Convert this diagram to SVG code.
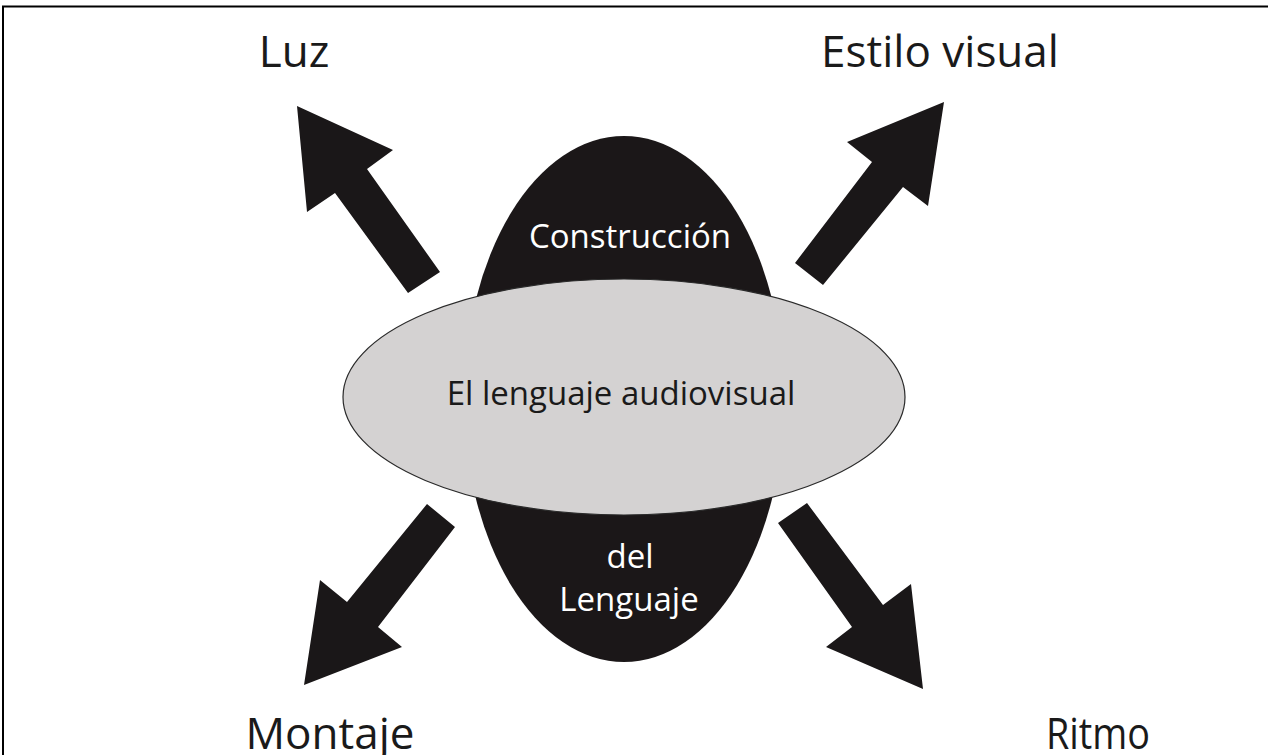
<svg xmlns="http://www.w3.org/2000/svg" width="1268" height="755" viewBox="0 0 1268 755">
<style>
.arrow{fill:#1a1718;}
.lbl{font-family:"Open Sans","Noto Sans",sans-serif;fill:#1a1a1a;text-anchor:middle;}
.big{font-size:44px;}
.mid{font-size:33px;}
.white{fill:#ffffff;}
</style>
<rect x="0" y="0" width="1268" height="755" fill="#ffffff"/>
<g id="frame" stroke="#000" stroke-width="2" fill="none">
<path d="M3,755 L3,6.5 L1268,6.5"/>
</g>
<g id="core">
<ellipse cx="624" cy="399" rx="160" ry="263" fill="#1b1718"/>
<ellipse cx="624" cy="397" rx="281" ry="118" fill="#d4d2d2" stroke="#2a2a2a" stroke-width="1.2"/>
<text class="lbl mid white" x="630" y="248">Construcción</text>
<text class="lbl mid" x="621" y="405">El lenguaje audiovisual</text>
<text class="lbl mid white" x="630" y="568">del</text>
<text class="lbl mid white" x="629" y="611">Lenguaje</text>
</g>
<g id="connectors">
<polygon class="arrow" points="297,106 393,150 367,169 440,272 408,293 335,193 307,212"/>
<polygon class="arrow" points="944,102 928,206 903,187 823,285 795,263 872,162 847,142"/>
<polygon class="arrow" points="304,685 320,580 347,602 427,504 455,527 378,627 402,647"/>
<polygon class="arrow" points="923,689 826,647 852,627 778,523 807,503 883,605 911,584"/>
</g>
<g id="luz"><text class="lbl big" x="294" y="67">Luz</text></g>
<g id="estilo"><text class="lbl big" x="940" y="67">Estilo visual</text></g>
<g id="montaje"><text class="lbl big" x="330" y="749">Montaje</text></g>
<g id="ritmo"><text class="lbl big" x="1098" y="749" textLength="104" lengthAdjust="spacingAndGlyphs">Ritmo</text></g>
</svg>
